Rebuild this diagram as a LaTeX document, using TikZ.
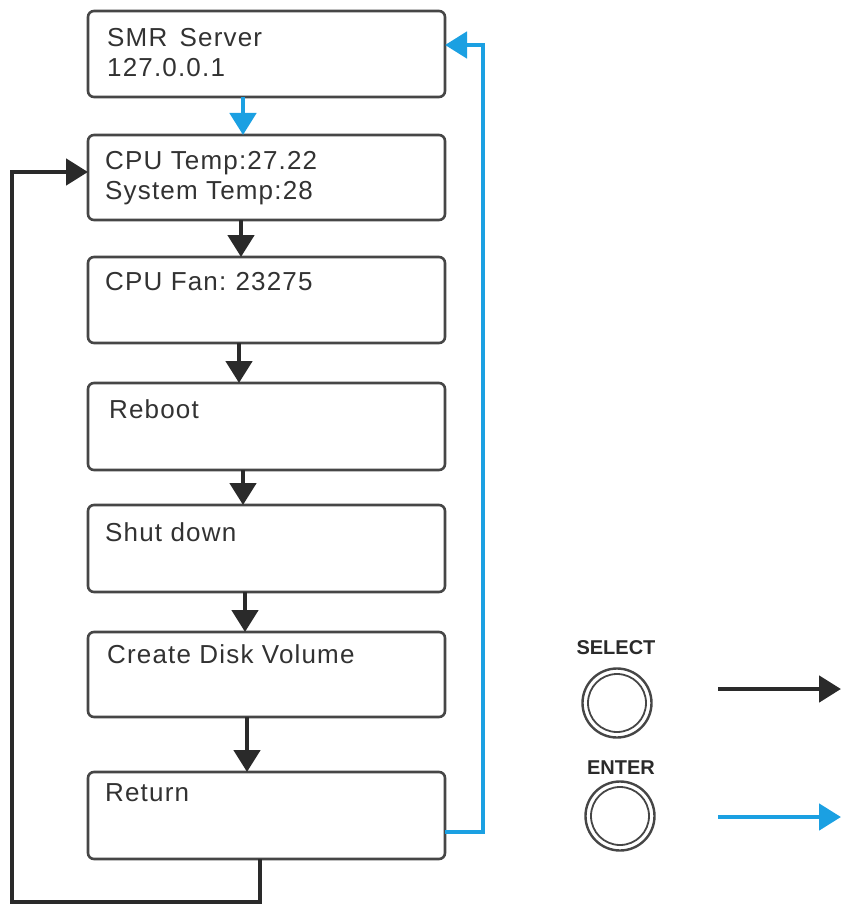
\documentclass[tikz,border=0pt]{standalone}
\usepackage{fontspec}
\setmainfont{Liberation Sans}
\usetikzlibrary{arrows.meta}
\definecolor{skyb}{RGB}{27,160,226}
\definecolor{ink}{RGB}{42,42,42}
\definecolor{frame}{RGB}{70,70,70}
\definecolor{txt}{RGB}{50,50,50}
\begin{document}
\begin{tikzpicture}[x=1pt,y=-1pt,
  box/.style={draw=frame,line width=2.6pt,rounded corners=6pt,fill=white,minimum width=357pt,inner sep=0pt,outer sep=0pt},
  lbl/.style={anchor=base west,inner sep=0pt,text=txt,font=\fontsize{26}{30}\selectfont\addfontfeature{LetterSpace=4.5}},
  conn/.style={draw=ink,line width=4.8pt,-{Triangle[length=22pt,width=26pt]}},
  bconn/.style={draw=skyb,line width=4.8pt,-{Triangle[length=22pt,width=26pt]}},
  btnlbl/.style={font=\bfseries\fontsize{20}{24}\selectfont,text=ink,inner sep=0pt}]
\useasboundingbox (0,0) rectangle (854,912);
% boxes
\node[box,minimum height=86pt] (b1) at (266.5,54) {};
\node[box,minimum height=85pt] (b2) at (266.5,177.5) {};
\node[box,minimum height=86pt] (b3) at (266.5,300) {};
\node[box,minimum height=87pt] (b4) at (266.5,426.5) {};
\node[box,minimum height=87pt] (b5) at (266.5,548.5) {};
\node[box,minimum height=85pt] (b6) at (266.5,674.5) {};
\node[box,minimum height=87pt] (b7) at (266.5,815.5) {};
% texts
\node[lbl] (t1a) at (107,47) {SMR\hspace{4pt} Server};
\node[lbl] (t1b) at (107,77) {127.0.0.1};
\node[lbl] (t2a) at (105,170) {CPU Temp:27.22};
\node[lbl] (t2b) at (105,199) {System Temp:28};
\node[lbl] (t3) at (105,290) {CPU Fan:\hspace{-2pt} 23275};
\node[lbl] (t4) at (109,418) {Reboot};
\node[lbl] (t5) at (105,541) {Shut down};
\node[lbl] (t6) at (107,663) {Create Disk Volume};
\node[lbl] (t7) at (105,801) {Return};
% vertical arrows
\draw[bconn] (b1.south -| 243,0) -- (b2.north -| 243,0);
\draw[conn] (b2.south -| 241,0) -- (b3.north -| 241,0);
\draw[conn] (b3.south -| 239,0) -- (b4.north -| 239,0);
\draw[conn] (b4.south -| 243,0) -- (b5.north -| 243,0);
\draw[conn] (b5.south -| 245,0) -- (b6.north -| 245,0);
\draw[conn] (b6.south -| 247,0) -- (b7.north -| 247,0);
% loops
\coordinate (lb) at (260,902);
\coordinate (ll) at (12,902);
\coordinate (lt) at (12,172);
\draw[conn,line join=miter] (b7.south -| lb) -- (lb) -- (ll) -- (lt) -- (b2.west |- lt);
\coordinate (rb) at (483,832);
\coordinate (rt) at (483,45);
\draw[bconn,line join=miter] (b7.east |- rb) -- (rb) -- (rt) -- (b1.east |- rt);
% buttons
\node[btnlbl] (sel) at (616,648) {SELECT};
\node[draw=frame,line width=2.4pt,circle,minimum size=69pt,inner sep=0pt] (c1) at (617,703) {};
\node[draw=frame,line width=1.8pt,circle,minimum size=58pt,inner sep=0pt] (c1i) at (c1) {};
\node[btnlbl] (ent) at (621,768) {ENTER};
\node[draw=frame,line width=2.4pt,circle,minimum size=69pt,inner sep=0pt] (c2) at (620,816) {};
\node[draw=frame,line width=1.8pt,circle,minimum size=58pt,inner sep=0pt] (c2i) at (c2) {};
\coordinate (s1) at (718,689);
\coordinate (s2) at (841,689);
\coordinate (e1) at (718,817);
\coordinate (e2) at (841,817);
\draw[conn] (s1) -- (s2);
\draw[bconn] (e1) -- (e2);
\end{tikzpicture}
\end{document}
